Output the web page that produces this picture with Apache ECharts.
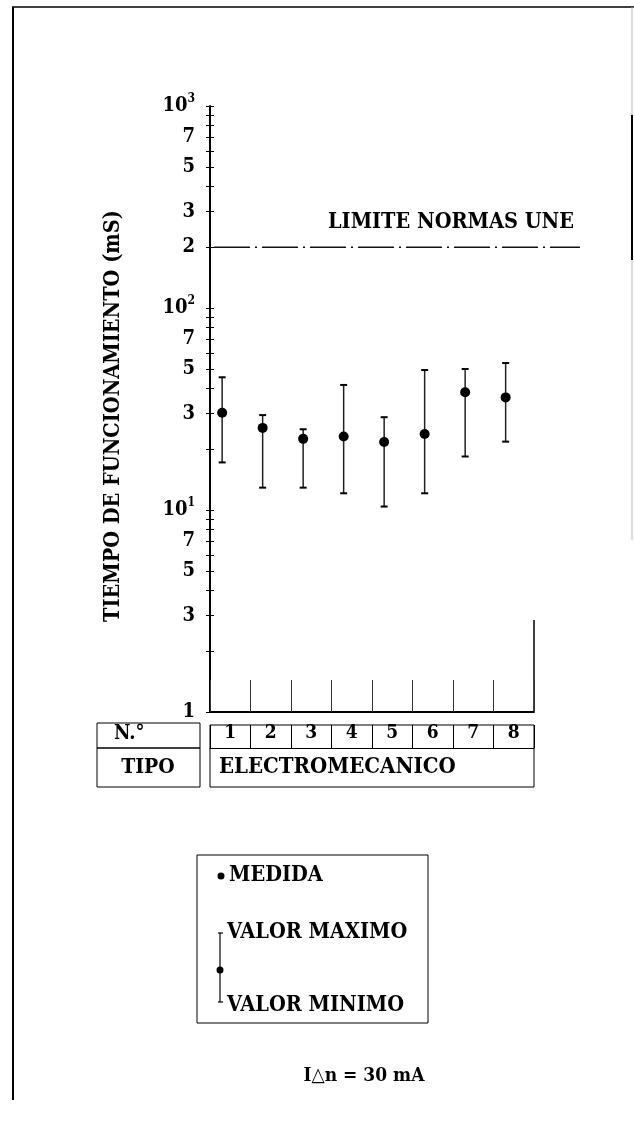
<!DOCTYPE html>
<html><head><meta charset="utf-8">
<script src="https://cdn.jsdelivr.net/npm/echarts@6/dist/echarts.min.js"></script>
<style>html,body{margin:0;padding:0;background:#fff}#c{width:634px;height:1122px}</style>
</head><body><div id="c"></div>
<script>
const categories = ['1','2','3','4','5','6','7','8'];
const medida      = [30.3, 25.5, 22.5, 23.1, 21.7, 23.8, 38.3, 36.1];
const valorMaximo = [45.4, 29.5, 25.1, 41.6, 28.8, 49.3, 49.9, 53.4];
const valorMinimo = [17.2, 12.9, 12.9, 12.1, 10.4, 12.1, 18.4, 21.8];
const limiteUNE = 200;
const yTickValues = [1,2,3,4,5,6,7,8,9,10,20,30,40,50,60,70,80,90,100,200,300,400,500,600,700,800,900,1000];
const yLabelValues = [1,3,5,7,10,30,50,70,100,200,300,500,700,1000];
const yLabelTexts  = ['1','3','5','7','10^1','3','5','7','10^2','2','3','5','7','10^3'];

const F = "'DejaVu Serif Condensed','DejaVu Serif',serif";
const chart = echarts.init(document.getElementById('c'));

function yFmt(v){
  let idx = -1;
  for (let i=0;i<yLabelValues.length;i++){
    if (Math.abs(Math.log10(v) - Math.log10(yLabelValues[i])) < 1e-6) { idx = i; break; }
  }
  if (idx < 0) return '';
  const t = yLabelTexts[idx];
  if (t.indexOf('^') >= 0) { const p = t.split('^'); return '{b|' + p[0] + '}{s|' + p[1] + '}'; }
  return '{b|' + t + '}';
}

const txt = (x, y, text, size, align) => ({
  type:'text', x:x, y:y,
  style:{text:text, fontFamily:F, fontWeight:'bold', fontSize:size, fill:'#000', align:align||'left', verticalAlign:'middle'}
});
const ln = (x1,y1,x2,y2,w,c) => ({type:'line', shape:{x1:x1,y1:y1,x2:x2,y2:y2}, style:{stroke:c||'#000', lineWidth:w||1}});

chart.setOption({
  animation:false,
  backgroundColor:'#fff',
  grid:{left:210, top:106, width:324, height:606},
  xAxis:[
    {type:'category', data:categories, boundaryGap:true,
     axisLine:{show:true, onZero:false, lineStyle:{color:'#000', width:2}},
     axisTick:{show:true, interval:0, alignWithLabel:false, inside:true, length:32, lineStyle:{color:'#333', width:1}},
     axisLabel:{show:true, interval:0, margin:12, fontFamily:F, fontWeight:'bold', fontSize:19, color:'#000'},
     splitLine:{show:false}},
    {type:'category', data:categories, position:'bottom', offset:36, boundaryGap:true,
     axisLine:{onZero:false, show:true, lineStyle:{color:'#000', width:1}},
     axisTick:{show:true, interval:0, alignWithLabel:false, inside:true, length:23, lineStyle:{color:'#000', width:1}},
     axisLabel:{show:false}, splitLine:{show:false}}
  ],
  yAxis:[
    {type:'log', logBase:10, min:1, max:1000,
     axisLine:{show:true, lineStyle:{color:'#000', width:2}},
     axisTick:{show:true, length:4, customValues:yTickValues, lineStyle:{color:'#000', width:1}},
     axisLabel:{customValues:yLabelValues, formatter:yFmt, margin:15,
       rich:{b:{fontFamily:F, fontWeight:'bold', fontSize:20, color:'#000', lineHeight:26},
             s:{fontFamily:F, fontWeight:'bold', fontSize:12, color:'#000', verticalAlign:'top', lineHeight:12}}},
     splitLine:{show:false},
     name:'TIEMPO DE FUNCIONAMIENTO (mS)', nameLocation:'middle', nameGap:86,
     nameTextStyle:{fontFamily:F, fontWeight:'bold', fontSize:21.5, color:'#000', padding:[0,14,0,0]}},
    {type:'log', logBase:10, min:1, max:1000, position:'left',
     axisLine:{show:false},
     axisTick:{show:true, inside:true, length:4, customValues:yTickValues, lineStyle:{color:'#000', width:1}},
     axisLabel:{show:false}, splitLine:{show:false}}
  ],
  series:[
    {type:'custom', xAxisIndex:0, yAxisIndex:0, clip:false,
     encode:{x:0, y:1},
     data: categories.map((c,i)=>[i, medida[i], valorMinimo[i], valorMaximo[i]]),
     renderItem:function(params, api){
       const i = api.value(0);
       const c = api.coord([i, api.value(1)]);
       const lo = api.coord([i, api.value(2)]);
       const hi = api.coord([i, api.value(3)]);
       const bw = api.size([1,0])[0];
       const x = c[0] - bw*0.2;
       return {type:'group', children:[
         {type:'line', shape:{x1:x,y1:hi[1],x2:x,y2:lo[1]}, style:{stroke:'#222', lineWidth:1.5}},
         {type:'line', shape:{x1:x-3.5,y1:hi[1],x2:x+3.5,y2:hi[1]}, style:{stroke:'#000', lineWidth:2}},
         {type:'line', shape:{x1:x-3.5,y1:lo[1],x2:x+3.5,y2:lo[1]}, style:{stroke:'#000', lineWidth:2}},
         {type:'circle', shape:{cx:x, cy:c[1], r:5}, style:{fill:'#000'}}
       ]};
     }},
    {type:'custom', xAxisIndex:0, yAxisIndex:0, clip:false,
     encode:{x:0, y:1},
     data:[[0, limiteUNE]],
     renderItem:function(params, api){
       const y = api.coord([0, api.value(1)])[1];
       return {type:'group', children:[
         {type:'line', shape:{x1:214,y1:y,x2:580,y2:y}, style:{stroke:'#111', lineWidth:1.5, lineDash:[36,5,2,5]}},
         {type:'text', x:574, y:y-25, style:{text:'LIMITE NORMAS UNE', fontFamily:F, fontWeight:'bold', fontSize:21.5, fill:'#000', align:'right', verticalAlign:'middle'}}
       ]};
     }}
  ],
  graphic:[
    ln(12,7,634,7,1.5),
    ln(13,7,13,1100,2),
    ln(632,7,632,540,1,'#bbb'),
    ln(632,115,632,260,2),
    ln(534,620,534,712,1.5),
    {type:'rect', shape:{x:97,y:723,width:103,height:25}, style:{fill:'none', stroke:'#000', lineWidth:1}},
    {type:'rect', shape:{x:97,y:748,width:103,height:39}, style:{fill:'none', stroke:'#000', lineWidth:1}},
    {type:'rect', shape:{x:210,y:725,width:324,height:62}, style:{fill:'none', stroke:'#000', lineWidth:1}},
    txt(114,734,'N.°',20),
    txt(148,768,'TIPO',21,'center'),
    txt(219,767,'ELECTROMECANICO',22),
    {type:'rect', shape:{x:197,y:855,width:231,height:168}, style:{fill:'none', stroke:'#000', lineWidth:1}},
    {type:'circle', shape:{cx:221,cy:876,r:3.5}, style:{fill:'#000'}},
    txt(229,875,'MEDIDA',21.5),
    ln(220,933,220,1002,1.2),
    ln(218,933,223,933,1.2),
    ln(218,1002,223,1002,1.2),
    {type:'circle', shape:{cx:220,cy:970,r:3.5}, style:{fill:'#000'}},
    txt(227,932,'VALOR MAXIMO',21.5),
    txt(227,1005,'VALOR MINIMO',21.5),
    txt(364,1076,'I△n = 30 mA',19,'center')
  ]
});
</script></body></html>
